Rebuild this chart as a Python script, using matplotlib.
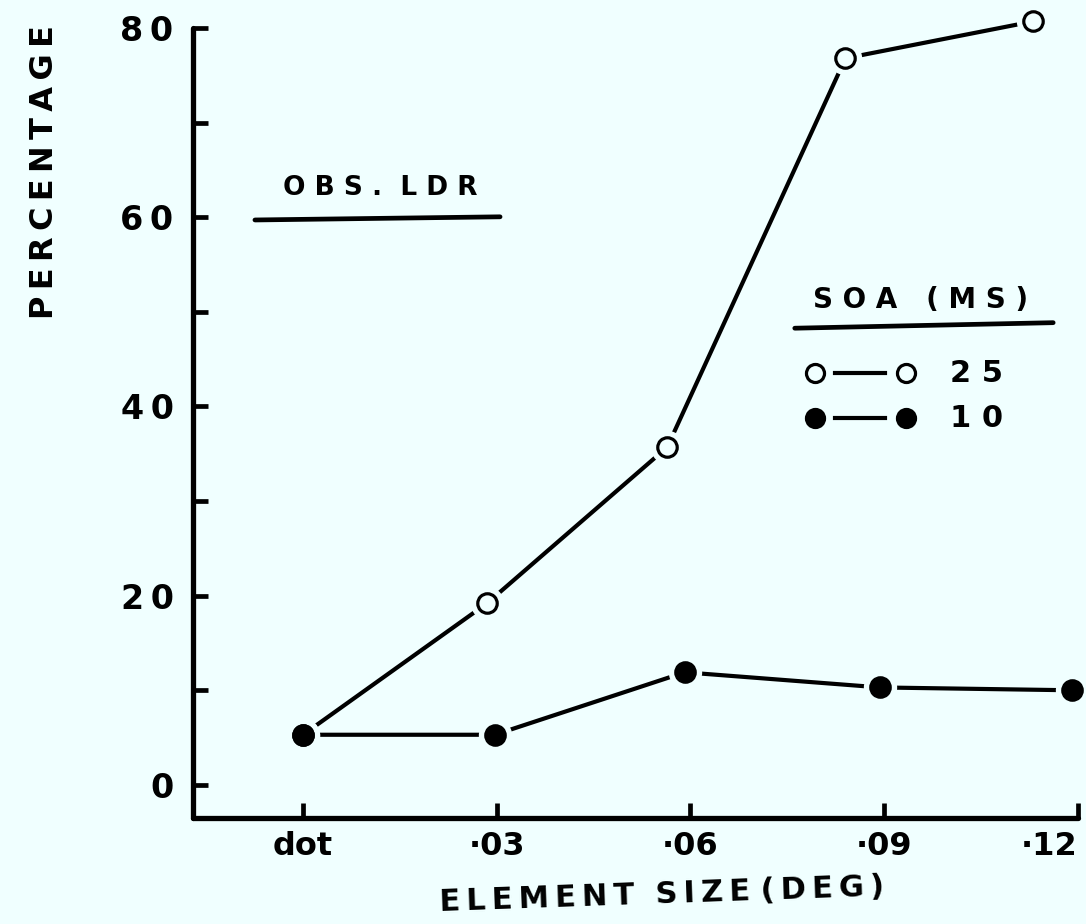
import matplotlib.pyplot as plt

# element sizes (deg) and where each point sits along the x axis
sizes = ['dot', '\u00b703', '\u00b706', '\u00b709', '\u00b712']
tick_pos = [0, 1, 2, 3, 4]
x_25 = [0, 0.95, 1.88, 2.80, 3.77]
x_10 = [0, 0.99, 1.97, 2.98, 3.97]

# percentage observed LDR, SOA 25 ms (open) and 10 ms (filled)
soa_25 = [5.3, 19.2, 35.7, 76.8, 80.7]
soa_10 = [5.3, 5.3, 11.9, 10.3, 10.0]

y_major = [0, 20, 40, 60, 80]
y_minor = [10, 30, 50, 70]

bg = '#f0ffff'
ts = '\u2009'  # thin space for letter spacing


def spaced(s, sep=ts):
    return sep.join(s)


def words(s, sep=' ', gap='   '):
    return gap.join(spaced(w, sep) for w in s.split())


plt.rcParams['font.family'] = 'DejaVu Sans'
plt.rcParams['font.weight'] = 'bold'

fig = plt.figure(figsize=(10.86, 9.24), dpi=100, facecolor=bg)
ax = fig.add_axes([0.1777, 0.1147, 0.8149, 0.855])
ax.set_facecolor(bg)

lw = 3
for xs, ys, face in [(x_25, soa_25, bg), (x_10, soa_10, 'black')]:
    ax.plot(xs, ys, color='black', lw=lw, clip_on=False, zorder=2)
    # gap between line and marker, as in the hand-drawn original
    ax.plot(xs, ys, 'o', ms=23, color=bg, mec=bg, clip_on=False, zorder=3)
    ax.plot(xs, ys, 'o', ms=14, mfc=face, mec='black', mew=2.3,
            clip_on=False, zorder=4)

ax.set_xlim(-0.568, 4.0)
ax.set_ylim(-3.5, 80)

for side in ['top', 'right']:
    ax.spines[side].set_visible(False)
for side in ['left', 'bottom']:
    ax.spines[side].set_linewidth(3.8)
    ax.spines[side].set_capstyle('round')

ax.set_xticks(tick_pos)
ax.set_xticklabels(sizes, fontsize=23, fontweight='bold')
ax.get_xticklabels()[-1].set_ha('right')
ax.set_yticks(y_major)
ax.set_yticklabels([spaced(str(v)) for v in y_major], fontsize=24,
                   fontweight='bold')
ax.set_yticks(y_minor, minor=True)
ax.tick_params(axis='both', which='both', direction='in', length=11,
               width=3.4)
ax.tick_params(axis='x', pad=9)
ax.tick_params(axis='y', pad=14)

fig.text(45 / 1086, 1 - 172 / 924, spaced('PERCENTAGE'), rotation=90,
         ha='center', va='center', fontsize=23, fontweight='bold')
fig.text(662 / 1086, 1 - 895 / 924, words('ELEMENT SIZE', sep=ts, gap='  ')
         + ' ' + spaced('(DEG)'),
         rotation=2, ha='center', va='center', fontsize=22,
         fontweight='bold')

# observer label
ax.text(0.212, 0.797, words('OBS. LDR', sep=' ', gap='  '),
        transform=ax.transAxes, ha='center', va='center', fontsize=19,
        fontweight='bold')
ax.plot([0.070, 0.347], [0.757, 0.761], transform=ax.transAxes,
        color='black', lw=3.4, solid_capstyle='round')

# legend
ax.text(0.822, 0.656, words('SOA (MS)', sep=' ', gap='   '),
        transform=ax.transAxes, ha='center', va='center', fontsize=20,
        fontweight='bold')
ax.plot([0.680, 0.972], [0.620, 0.627], transform=ax.transAxes,
        color='black', lw=3.4, solid_capstyle='round')
rows = [(0.563, bg, '25'), (0.506, 'black', '10')]
for y, face, lab in rows:
    ax.plot([0.726, 0.782], [y, y], transform=ax.transAxes, color='black',
            lw=lw)
    ax.plot([0.703, 0.806], [y, y], 'o', ms=13, mfc=face, mec='black',
            mew=2.3, transform=ax.transAxes, linestyle='none')
    ax.text(0.855, y, spaced(lab, ' '), transform=ax.transAxes, ha='left',
            va='center', fontsize=22, fontweight='bold')

fig.savefig('out.png', dpi=100, facecolor=bg)
